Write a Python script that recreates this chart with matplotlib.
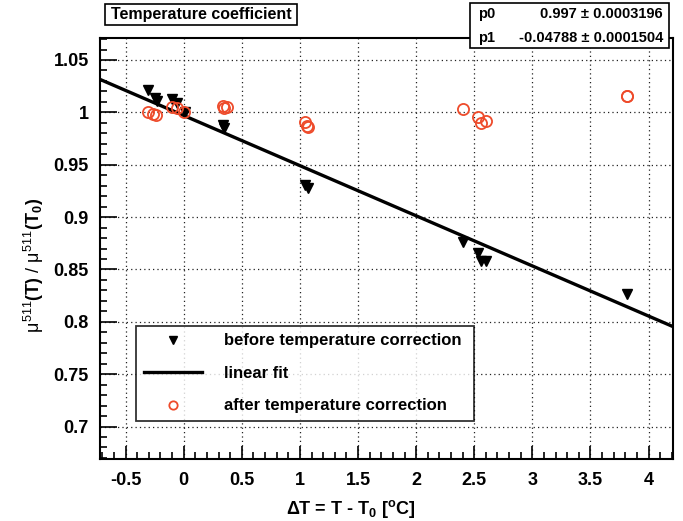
import numpy as np
import matplotlib
matplotlib.use('Agg')
import matplotlib.pyplot as plt
from matplotlib.ticker import MultipleLocator
from matplotlib.patches import Rectangle

plt.rcParams['font.family'] = ['Liberation Sans', 'DejaVu Sans']
plt.rcParams['mathtext.fontset'] = 'custom'
plt.rcParams['mathtext.rm'] = 'Liberation Sans'
plt.rcParams['mathtext.it'] = 'Liberation Sans'
plt.rcParams['mathtext.bf'] = 'Liberation Sans:bold'

# before temperature correction
dt_before = [-0.31, -0.25, -0.23, -0.10, -0.06, 0.01, 0.34, 0.35,
             1.04, 1.07, 2.40, 2.53, 2.56, 2.60, 3.81]
mu_before = [1.021, 1.0135, 1.011, 1.0128, 1.0087, 1.0007, 0.988, 0.985,
             0.9307, 0.9278, 0.8766, 0.8655, 0.858, 0.858, 0.8264]

# after temperature correction
dt_after = [-0.31, -0.26, -0.235, -0.10, -0.06, 0.003, 0.34, 0.35, 0.37,
            1.04, 1.06, 1.07, 2.40, 2.53, 2.56, 2.60, 3.81, 3.81]
mu_after = [1.0007, 0.998, 0.9975, 1.0054, 1.004, 1.0, 1.006, 1.004, 1.0054,
            0.9908, 0.987, 0.986, 1.003, 0.996, 0.990, 0.9918, 1.0155, 1.016]

# fit parameters
p0, p0_err = 0.997, 0.0003196
p1, p1_err = -0.04788, 0.0001504

xlim = (-0.72, 4.21)
ylim = (0.669, 1.071)
red = '#ee4b2b'

fig = plt.figure(figsize=(6.83, 5.21), dpi=100)
ax = fig.add_axes([100 / 683, 1 - 459 / 521, 573 / 683, 421 / 521])

xf = np.array(xlim)
ax.plot(dt_before, mu_before, 'v', color='black', ms=7.5, zorder=3,
        label='before temperature correction')
ax.plot(xf, p0 + p1 * xf, '-', color='black', lw=2.4, zorder=2,
        label='linear fit')
ax.plot(dt_after, mu_after, 'o', mfc='none', mec=red, mew=1.3, ms=8, zorder=3,
        label='after temperature correction')

ax.set_xlim(*xlim)
ax.set_ylim(*ylim)
ax.xaxis.set_major_locator(MultipleLocator(0.5))
ax.xaxis.set_minor_locator(MultipleLocator(0.1))
ax.yaxis.set_major_locator(MultipleLocator(0.05))
ax.yaxis.set_minor_locator(MultipleLocator(0.01))
ax.xaxis.set_major_formatter(plt.FuncFormatter(lambda v, p: f'{v:g}'))
ax.yaxis.set_major_formatter(plt.FuncFormatter(lambda v, p: f'{v:g}'))
ax.tick_params(axis='both', which='both', direction='in', width=1.2,
               labelsize=13)
ax.tick_params(axis='x', which='major', length=9.5, pad=9.5)
ax.tick_params(axis='x', which='minor', length=5)
ax.tick_params(axis='y', which='major', length=12, pad=8)
ax.tick_params(axis='y', which='minor', length=5)
for lab in ax.get_xticklabels() + ax.get_yticklabels():
    lab.set_fontweight('bold')
for s in ax.spines.values():
    s.set_linewidth(1.5)
ax.grid(True, which='major', color='#222222', lw=0.9, ls=(0, (1, 2.5)))

ax.set_xlabel(r'$\mathbf{\Delta}$T = T - T$_\mathbf{0}$ [$^\mathbf{o}$C]',
              fontsize=13, fontweight='bold')
ax.xaxis.set_label_coords(0.438, -0.093)
ax.set_ylabel(r'$\mu^{511}$(T)$\ /\ \mu^{511}$(T$_\mathbf{0}$)', fontsize=13,
              fontweight='bold')
ax.yaxis.set_label_coords(-0.095, 0.46)

leg = ax.legend(loc='upper left', bbox_to_anchor=(0.063, 0.093, 0.59, 0.223),
                mode='expand', fontsize=12, frameon=True, fancybox=False,
                handlelength=3.5, handletextpad=1.3, labelspacing=1.05,
                borderpad=0.45, borderaxespad=0, markerscale=0.75)
leg.get_frame().set_edgecolor('black')
leg.get_frame().set_linewidth(1.3)
for t in leg.get_texts():
    t.set_fontweight('bold')

# title box
fig.patches.append(Rectangle((105 / 683, 1 - 25 / 521), 192 / 683, 21 / 521,
                             transform=fig.transFigure, fc='white', ec='black',
                             lw=1.2))
fig.text(201 / 683, 1 - 14.5 / 521, 'Temperature coefficient', ha='center',
         va='center', fontsize=11.5, fontweight='bold')

# stats box
fig.patches.append(Rectangle((470 / 683, 1 - 48 / 521), 199 / 683, 45 / 521,
                             transform=fig.transFigure, fc='white', ec='black',
                             lw=1.2, zorder=5))
fig.text(478 / 683, 1 - 14 / 521, 'p0', fontsize=10.5, fontweight='bold',
         va='center', zorder=6)
fig.text(663 / 683, 1 - 14 / 521, f'{p0:g} ± {p0_err:.7f}', fontsize=10.5,
         fontweight='bold', va='center', ha='right', zorder=6)
fig.text(478 / 683, 1 - 38 / 521, 'p1', fontsize=10.5, fontweight='bold',
         va='center', zorder=6)
fig.text(663 / 683, 1 - 38 / 521, f'{p1:g} ± {p1_err:.7f}', fontsize=10.5,
         fontweight='bold', va='center', ha='right', zorder=6)

fig.savefig('out.png', dpi=100)
